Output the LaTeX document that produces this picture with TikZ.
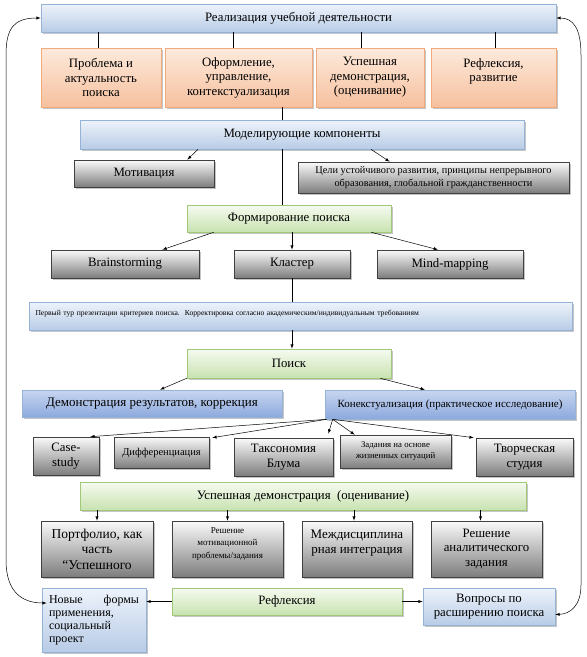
\documentclass[tikz,border=0pt]{standalone}
\usepackage{fontspec}
\setmainfont{LiberationSerif}[Extension=.ttf,UprightFont=*-Regular,BoldFont=*-Bold,
  ItalicFont=*-Italic,BoldItalicFont=*-BoldItalic]
\usetikzlibrary{arrows,calc,shadows}
\definecolor{BlueTopClr}{RGB}{238,243,251}
\definecolor{BlueBotClr}{RGB}{184,204,230}
\definecolor{BlueLineClr}{RGB}{149,179,215}
\definecolor{DeepTopClr}{RGB}{200,214,240}
\definecolor{DeepMidClr}{RGB}{222,231,246}
\definecolor{DeepBotClr}{RGB}{140,169,221}
\definecolor{OrTopClr}{RGB}{253,234,220}
\definecolor{OrBotClr}{RGB}{246,192,158}
\definecolor{OrLineClr}{RGB}{242,170,122}
\definecolor{GrTopClr}{RGB}{250,250,250}
\definecolor{GrBotClr}{RGB}{125,125,125}
\definecolor{GrLineClr}{RGB}{64,64,64}
\definecolor{GnTopClr}{RGB}{246,251,241}
\definecolor{GnBotClr}{RGB}{200,226,176}
\definecolor{GnLineClr}{RGB}{160,200,120}

\begin{document}
\begin{tikzpicture}[x=1pt,y=-1pt,>=latex,
  box/.style={draw,line width=0.6pt,inner sep=2pt,align=center,
    drop shadow={shadow xshift=1.6pt,shadow yshift=-1.6pt,fill=black!45}},
  sz/.style 2 args={minimum width=#1pt,minimum height=#2pt},
  bluebox/.style={box,draw=BlueLineClr,top color=BlueTopClr,bottom color=BlueBotClr},
  deepbox/.style={box,draw=BlueLineClr,top color=DeepTopClr,middle color=DeepMidClr,bottom color=DeepBotClr},
  orbox/.style={box,draw=OrLineClr,top color=OrTopClr,bottom color=OrBotClr},
  grbox/.style={box,draw=GrLineClr,top color=GrTopClr,bottom color=GrBotClr},
  gnbox/.style={box,draw=GnLineClr,top color=GnTopClr,bottom color=GnBotClr},
  txt/.style={font=\fontsize{12.8}{14.5}\selectfont},
  fnt/.style 2 args={font=\fontsize{#1}{#2}\selectfont},
  lnk/.style={line width=0.5pt},
  arr/.style={lnk,->}]
\useasboundingbox (0,0) rectangle (587,657);

% Top level and its four parts.
\node[bluebox,sz={515}{28},txt] (real) at (298.5,18) {Реализация учебной деятельности};
\node[orbox,sz={120}{59},txt] (prob) at (101,77.5) {Проблема и\\ актуальность\\ поиска};
\node[orbox,sz={147}{59},txt] (form) at (238.5,77.5) {Оформление,\\ управление,\\ контекстуализация};
\node[orbox,sz={108}{59},txt] (demo) at (370,77.5) {Успешная\\ демонстрация,\\ (оценивание)};
\node[orbox,sz={125}{59},txt] (refl) at (493.5,77.5) {Рефлексия,\\ развитие\\ \phantom{x}};

% Modelling components.
\node[bluebox,sz={444}{29},txt] (model) at (302,134.5) {Моделирующие компоненты};
\node[grbox,sz={140}{27},txt] (motiv) at (144,173.5) {Мотивация};
\node[grbox,sz={271}{31},fnt={10.3}{12.5}] (goals) at (433.5,177.5) {Цели устойчивого развития, принципы непрерывного\\ образования, глобальной гражданственности};

% Forming the search.
\node[gnbox,sz={204}{27},txt] (fsearch) at (289,218.5) {Формирование поиска};
\node[grbox,sz={148}{28},txt] (brain) at (125,264) {Brainstorming};
\node[grbox,sz={116}{28},txt] (cluster) at (292,264) {Кластер};
\node[grbox,sz={146}{28},txt] (mind) at (450,264) {Mind-mapping};
\node[bluebox,sz={543}{28},fnt={7.6}{10},text width=530pt,align=left,text depth=6pt] (first) at (300.5,316)
  {Первый тур презентации критериев поиска.\ \ Корректировка согласно академическим/индивидуальным требованиям};

% Search and its results.
\node[gnbox,sz={204}{29},txt] (poisk) at (289,363.5) {Поиск};
\node[deepbox,sz={260}{27},fnt={13}{15}] (dres) at (152,403.5) {Демонстрация результатов, коррекция};
\node[deepbox,sz={250}{29},fnt={11}{12}] (ctx) at (450,404.5) {Конекстуализация (практическое исследование)};
\node[grbox,sz={66}{38},txt] (case) at (66,456) {Case-\\ study};
\node[grbox,sz={95}{31},fnt={10.5}{12}] (diff) at (161.5,452.5) {Дифференциация};
\node[grbox,sz={99}{38},txt] (tax) at (283.5,457) {Таксономия\\ Блума};
\node[grbox,sz={111}{33},fnt={8.8}{11}] (task) at (395.5,451.5) {Задания на основе\\ жизненных ситуаций};
\node[grbox,sz={97}{38},txt] (creat) at (524.5,457) {Творческая\\ студия};

% Successful demonstration.
\node[gnbox,sz={446}{28},txt] (sdemo) at (303,496) {Успешная демонстрация\ \ (оценивание)};
\node[grbox,sz={112}{56},fnt={13.5}{15.5}] (port) at (97,549) {Портфолио, как\\ часть\\ “Успешного};
\node[grbox,sz={111}{56},fnt={9}{12.5}] (rmot) at (227.5,549) {Решение\\ мотивационной\\ проблемы/задания\\ \phantom{x}};
\node[grbox,sz={110}{56},fnt={13}{15}] (inter) at (357,549) {Междисциплина\\ рная интеграция\\ \phantom{x}};
\node[grbox,sz={111}{56},txt] (rana) at (486.5,549) {Решение\\ аналитического\\ задания};

% Reflection.
\node[gnbox,sz={230}{27},txt] (reflx) at (287,601.5) {Рефлексия};
\node[bluebox,sz={104}{64},fnt={12}{13},text width=90pt,align=left] (newf) at (94,620)
  {Новые\hfill формы\\ применения,\\ социальный\\ проект};
\node[bluebox,sz={132}{37},txt] (ask) at (489,606.5) {Вопросы по\\ расширению поиска};

% Connectors of the top level.
\draw[lnk] ([xshift=-3pt]prob.north) -- ([xshift=-3pt]prob.north |- real.south);
\draw[lnk] ([xshift=-5pt]form.north) -- ([xshift=-5pt]form.north |- real.south);
\draw[lnk] ([xshift=-9pt]demo.north) -- ([xshift=-9pt]demo.north |- real.south);
\draw[lnk] ([xshift=2pt]refl.north) -- ([xshift=2pt]refl.north |- real.south);
\draw[lnk] ([xshift=44pt]form.south) coordinate (f1) -- (f1 |- model.north);
\draw[lnk] (f1 |- model.south) -- (f1 |- fsearch.north);

\draw[arr] ([xshift=-104pt]model.south) -- ([xshift=-27pt]motiv.north east);
\draw[arr] ([xshift=69pt]model.south) -- ([xshift=92pt]goals.north west);

\draw[arr] ([xshift=27pt]fsearch.south west) -- ([xshift=-37pt]brain.north east);
\draw[arr] (fsearch.south -| cluster) -- (cluster.north);
\draw[arr] ([xshift=-20pt]fsearch.south east) -- ([xshift=-12pt]mind.north);
\draw[lnk] (cluster.south) -- (cluster.south |- first.north);
\draw[arr] (first.south -| cluster) -- (poisk.north -| cluster);

\draw[arr] (poisk.south west) -- ([xshift=8pt]dres.north);
\draw[arr] ([xshift=-11pt]poisk.south east) -- ([xshift=-25pt]ctx.north);

% Fan from the contextualisation box.
\draw[arr] ([xshift=2pt]ctx.south west) -- ([xshift=-9pt]case.north east);
\draw[arr] ([xshift=2pt]ctx.south west) -- ([xshift=3pt,yshift=-1pt]diff.north east);
\draw[arr] ([xshift=8pt]ctx.south west) -- ([xshift=-5pt,yshift=4pt]tax.north east);
\draw[arr] ([xshift=8pt]ctx.south west) -- ([xshift=15pt]task.north west);
\draw[arr] ([xshift=8pt]ctx.south west) -- ([xshift=-2pt]creat.north west);

\draw[arr] (sdemo.south -| port) -- (port.north);
\draw[arr] (sdemo.south -| rmot) -- (rmot.north);
\draw[arr] ([xshift=-3pt]sdemo.south -| inter) -- ([xshift=-3pt]inter.north);
\draw[arr] ([xshift=-6pt]sdemo.south -| rana) -- ([xshift=-6pt]rana.north);

\draw[arr] (reflx.west) -- (reflx.west -| newf.east);
\draw[arr] (reflx.east) -- (reflx.east -| ask.west);

% Return loops to the top.
\draw[lnk,<->] (real.west) .. controls (14,18) and (6,28) .. (6,55) -- (6,560)
  .. controls (6,592) and (22,603) .. ([xshift=5pt,yshift=17pt]newf.west);
\draw[lnk,<->] (real.east) .. controls (573,18) and (581,28) .. (581,55) -- (581,585)
  .. controls (581,606) and (570,614) .. ([yshift=-8pt]ask.east);
\end{tikzpicture}
\end{document}
